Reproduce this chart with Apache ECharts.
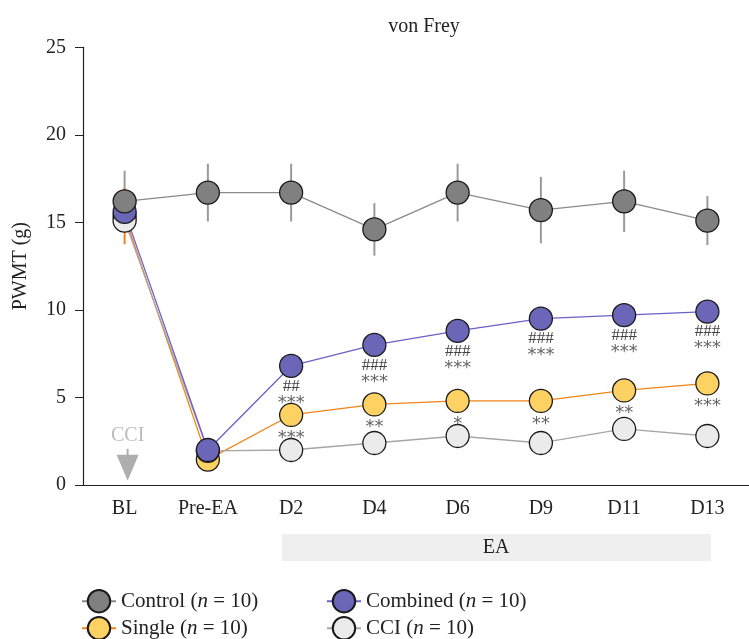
<!DOCTYPE html>
<html><head><meta charset="utf-8">
<script src="https://cdn.jsdelivr.net/npm/echarts@6/dist/echarts.min.js"></script>
<style>html,body{margin:0;padding:0;background:#fff}#c{width:749px;height:639px}</style>
</head><body><div id="c"></div>
<script>
const categories = ['BL','Pre-EA','D2','D4','D6','D9','D11','D13'];
const controlValues = [16.2,16.7,16.7,14.6,16.7,15.7,16.2,15.1];
const controlErrors = [1.75,1.65,1.65,1.5,1.65,1.9,1.75,1.4];
const combinedValues = [15.6,2.0,6.8,8.0,8.8,9.5,9.7,9.9];
const singleValues = [15.35,1.45,4.0,4.6,4.8,4.8,5.4,5.8];
const singleErrors = [1.6,0,0,0,0,0,0,0];
const cciValues = [15.1,1.95,2.0,2.4,2.8,2.4,3.2,2.8];
const combinedMarks = ['','','##\n***','###\n***','###\n***','###\n***','###\n***','###\n***'];
const singleMarks = ['','','***','**','*','**','**','***'];
const yMax = 25, yStep = 5;
const groupN = 10;
const cciArrowValue = 1.15;

const SERIF = '"Liberation Serif", "DejaVu Serif", serif';
const colors = {
  control: {fill:'#808080', line:'#8a8a8a'},
  combined: {fill:'#6b66b8', line:'#6a60c8'},
  single: {fill:'#fdd162', line:'#f28418'},
  cci: {fill:'#ebebeb', line:'#a6a6a6'}
};

function markText(s) {
  return s.split('\n').map(l => l[0] === '#' ? `{h|${l}}` : `{s|${l}}`).join('\n');
}

function lineSeries(name, values, c, marks) {
  return {
    name, type:'line', data: values.map((v,i)=>({
      value: v,
      label: marks && marks[i] ? {show:true, formatter: markText(marks[i])} : {show:false}
    })),
    symbol:'circle', symbolSize:23,
    lineStyle:{color:c.line, width:1.3},
    itemStyle:{color:c.fill, borderColor:'#1a1a1a', borderWidth:1.3},
    label:{position:'bottom', distance:1, align:'center',
      rich:{
        h:{fontFamily:SERIF, fontSize:17, color:'#444', lineHeight:14},
        s:{fontFamily:'"DejaVu Sans", sans-serif', fontSize:18, color:'#666', lineHeight:14, padding:[6,0,0,0]}
      }},
    emphasis:{disabled:true}, animation:false
  };
}

function errSeries(values, errs, color) {
  const data = values.map((v,i)=>[i, v-errs[i], v+errs[i]]).filter((d,i)=>errs[i]>0);
  return {
    type:'custom', silent:true, animation:false,
    renderItem(params, api){
      const p1 = api.coord([api.value(0), api.value(1)]);
      const p2 = api.coord([api.value(0), api.value(2)]);
      return {type:'line', shape:{x1:p1[0],y1:p1[1],x2:p2[0],y2:p2[1]},
        style:{stroke:color, lineWidth:2}};
    },
    data
  };
}

const chart = echarts.init(document.getElementById('c'));
const legendText = {
  fontFamily:SERIF, fontSize:21, color:'#222',
  rich:{i:{fontFamily:SERIF, fontSize:21, fontStyle:'italic', color:'#222'}, t:{fontFamily:SERIF, fontSize:21, color:'#222'}}
};
const legendFmt = name => `{t|${name} (}{i|n}{t| = ${groupN})}`;
function legendItem(name, left, top) {
  return {data:[name], orient:'horizontal', left, top, itemWidth:34, itemHeight:28, itemGap:0,
    padding:0, formatter:legendFmt, textStyle:legendText, selectedMode:false};
}

chart.setOption({
  animation:false,
  title:{text:'von Frey', left:419, textAlign:'center', top:12,
    textStyle:{fontFamily:SERIF, fontSize:20, fontWeight:'normal', color:'#222'}},
  grid:{left:83, top:47.3, width:672, height:437.7, containLabel:false},
  xAxis:{type:'category', data:categories, boundaryGap:true,
    axisLine:{lineStyle:{color:'#222', width:1.2}},
    axisTick:{alignWithLabel:true, length:8, lineStyle:{color:'#222'}},
    axisLabel:{fontFamily:SERIF, fontSize:20, color:'#222', margin:14}},
  yAxis:{type:'value', min:0, max:yMax, interval:yStep,
    name:'PWMT (g)', nameLocation:'middle', nameGap:52,
    nameTextStyle:{fontFamily:SERIF, fontSize:20, color:'#222'},
    splitLine:{show:false},
    axisLine:{show:true, lineStyle:{color:'#222', width:1.2}},
    axisTick:{show:true, length:8, lineStyle:{color:'#222'}},
    axisLabel:{fontFamily:SERIF, fontSize:20, color:'#222', margin:17}},
  legend:[
    legendItem('Control', 81, 589),
    legendItem('Single', 81, 616),
    legendItem('Combined', 326, 589),
    legendItem('CCI', 326, 616)
  ],
  graphic:[
    {type:'rect', shape:{x:282, y:534, width:429, height:27}, style:{fill:'#efefef'}, silent:true},
    {type:'text', x:496, y:548, style:{text:'EA', fontFamily:SERIF, fontSize:20, fill:'#222', align:'center', verticalAlign:'middle'}, silent:true}
  ],
  series:[
    errSeries(controlValues, controlErrors, '#9a9a9a'),
    errSeries(singleValues, singleErrors, colors.single.line),
    lineSeries('Single', singleValues, colors.single, singleMarks),
    lineSeries('CCI', cciValues, colors.cci),
    lineSeries('Combined', combinedValues, colors.combined, combinedMarks),
    lineSeries('Control', controlValues, colors.control),
    {type:'scatter', silent:true, animation:false,
      data:[[categories[0], cciArrowValue]],
      symbol:'path://M10,0 L12,0 L12,6 L22,6 L11,32 L0,6 L10,6 Z', symbolSize:[22,32], symbolOffset:[3,0],
      itemStyle:{color:'#9a9a9a'},
      label:{show:true, position:'top', distance:3, formatter:'CCI', fontFamily:SERIF, fontSize:20, color:'#aaaaaa'}}
  ]
});
</script></body></html>
